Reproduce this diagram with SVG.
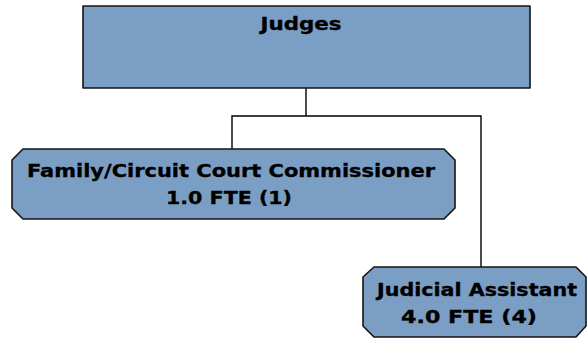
<svg xmlns="http://www.w3.org/2000/svg" width="588" height="341" viewBox="0 0 588 341">
<style>
.box{fill:#7b9fc4;stroke:#141414;stroke-width:1.6;stroke-linejoin:round}
.lbl{font-family:"DejaVu Sans",Verdana,sans-serif;font-weight:bold;font-size:18px;fill:#000;stroke:#000;stroke-width:0.35;text-anchor:middle}
.con{fill:none;stroke:#000;stroke-width:1.4}
</style>
<rect width="588" height="341" fill="#fff"/>
<g id="connectors">
<path class="con" d="M306,88 V116 M232,149 V116 H481 V267"/>
</g>
<g id="judges">
<rect class="box" x="83" y="6" width="447" height="82"/>
<text class="lbl" x="301" y="29.5" textLength="81" lengthAdjust="spacingAndGlyphs">Judges</text>
</g>
<g id="commissioner">
<path class="box" d="M23,149 H444 L455,160 V208 L444,219 H23 L12,208 V160 Z"/>
<text class="lbl" x="231" y="177" textLength="408" lengthAdjust="spacingAndGlyphs">Family/Circuit Court Commissioner</text>
<text class="lbl" x="229" y="204" textLength="126" lengthAdjust="spacingAndGlyphs">1.0 FTE (1)</text>
</g>
<g id="assistant">
<path class="box" d="M374,267 H576 L586,277 V326 L576,337 H374 L363,326 V277 Z"/>
<text class="lbl" x="477" y="296" textLength="200" lengthAdjust="spacingAndGlyphs">Judicial Assistant</text>
<text class="lbl" x="469" y="323" textLength="136" lengthAdjust="spacingAndGlyphs">4.0 FTE (4)</text>
</g>
</svg>
